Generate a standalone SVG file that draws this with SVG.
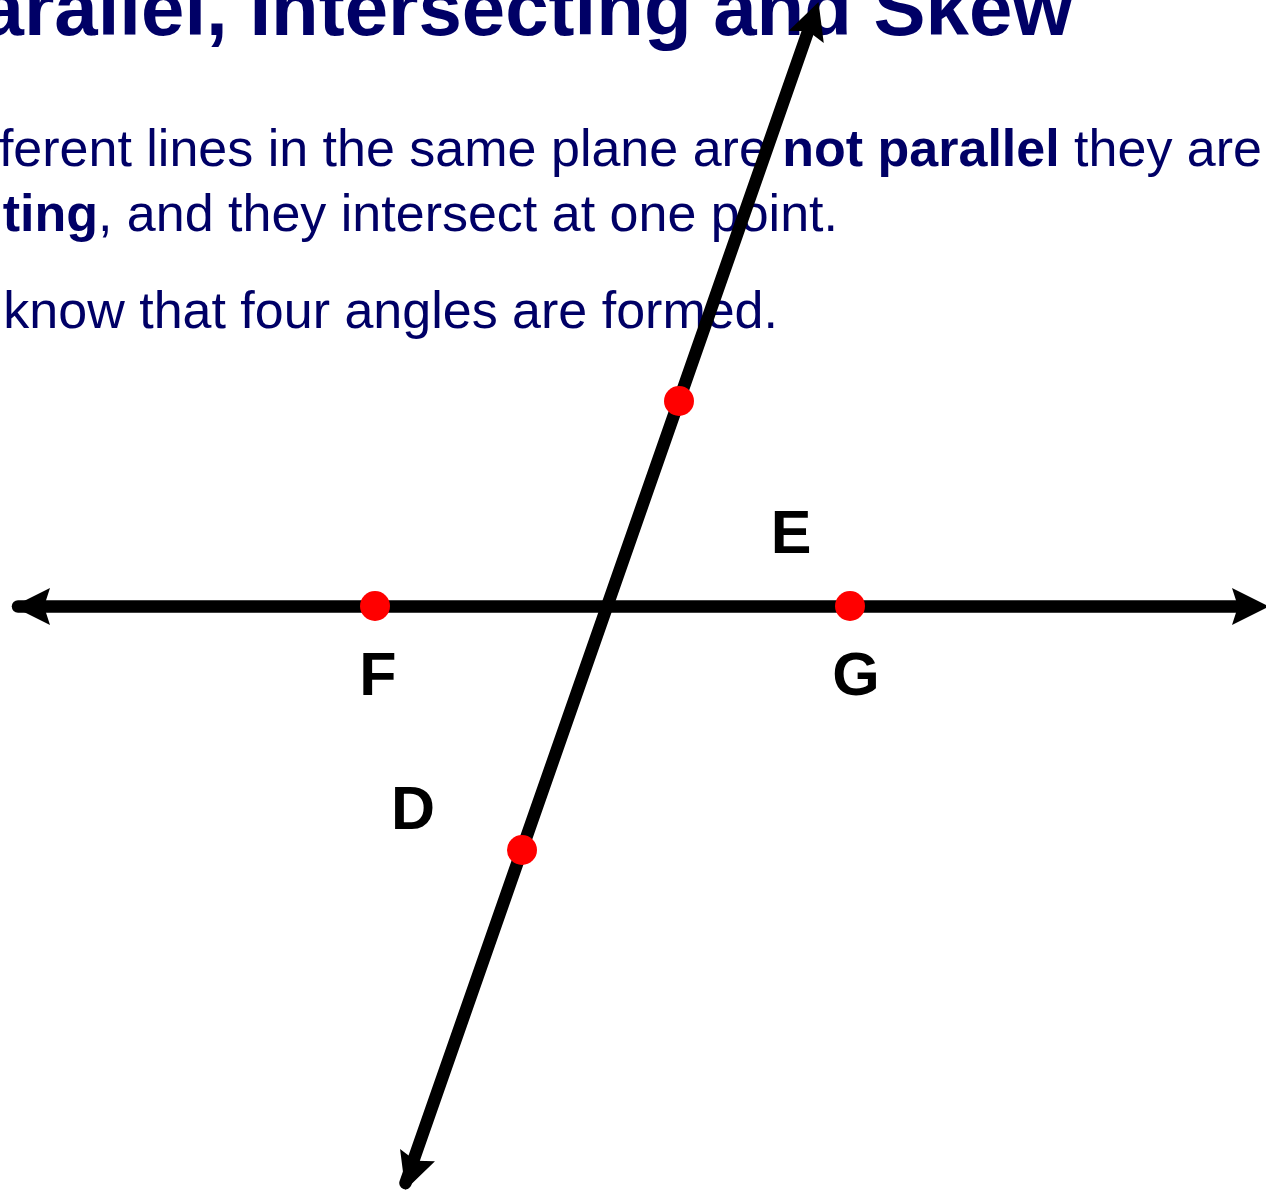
<svg xmlns="http://www.w3.org/2000/svg" xmlns:xlink="http://www.w3.org/1999/xlink" width="1266" height="1196" viewBox="0 0 1266 1196">
<style>
.title{font-family:"Liberation Sans",Arial,sans-serif;font-weight:bold;font-size:78px;fill:#000066}
.body{font-family:"Liberation Sans",Arial,sans-serif;font-size:52px;fill:#000066}
.b{font-weight:bold}
.lbl{font-family:"Liberation Sans",Arial,sans-serif;font-weight:bold;font-size:61px;fill:#000000;text-anchor:middle}
.ln{stroke:#000;stroke-width:12.5;stroke-linecap:round;fill:none}
.pt{fill:#ff0000}
</style>
<defs>
<path id="ah" d="M0,0 L-37,-18.5 L-31,0 L-37,18.5 Z" fill="#000"/>
</defs>
<rect width="1266" height="1196" fill="#ffffff"/>
<g id="texts">
<text class="title" x="1073" y="35" text-anchor="end">arallel, Intersecting and Skew</text>
<text class="body" x="1262" y="166" text-anchor="end">ferent lines in the same plane are <tspan class="b">not parallel</tspan> they are</text>
<text class="body" x="838" y="231" text-anchor="end"><tspan class="b">ting</tspan>, and they intersect at one point.</text>
<text class="body" x="778" y="328" text-anchor="end">know that four angles are formed.</text>
</g>
<g id="connectors">
<line class="ln" x1="18" y1="606.5" x2="1250" y2="606.5"/>
<line class="ln" x1="812" y1="20" x2="405.5" y2="1183"/>
<use xlink:href="#ah" transform="translate(1269,606.5)"/>
<use xlink:href="#ah" transform="translate(13,606.5) rotate(180)"/>
<use xlink:href="#ah" transform="translate(818.5,2) rotate(-70.73)"/>
<use xlink:href="#ah" transform="translate(405.3,1190) rotate(109.27)"/>
</g>
<g id="node-E"><text class="lbl" x="791" y="553">E</text></g>
<g id="node-F"><circle class="pt" cx="375" cy="606" r="15"/><text class="lbl" x="378" y="695">F</text></g>
<g id="node-G"><circle class="pt" cx="850" cy="606" r="15"/><text class="lbl" x="856" y="695">G</text></g>
<g id="node-D"><text class="lbl" x="413" y="829">D</text></g>
<g id="node-top"><circle class="pt" cx="679" cy="401" r="15"/></g>
<g id="node-bottom"><circle class="pt" cx="522" cy="850" r="15"/></g>
</svg>
